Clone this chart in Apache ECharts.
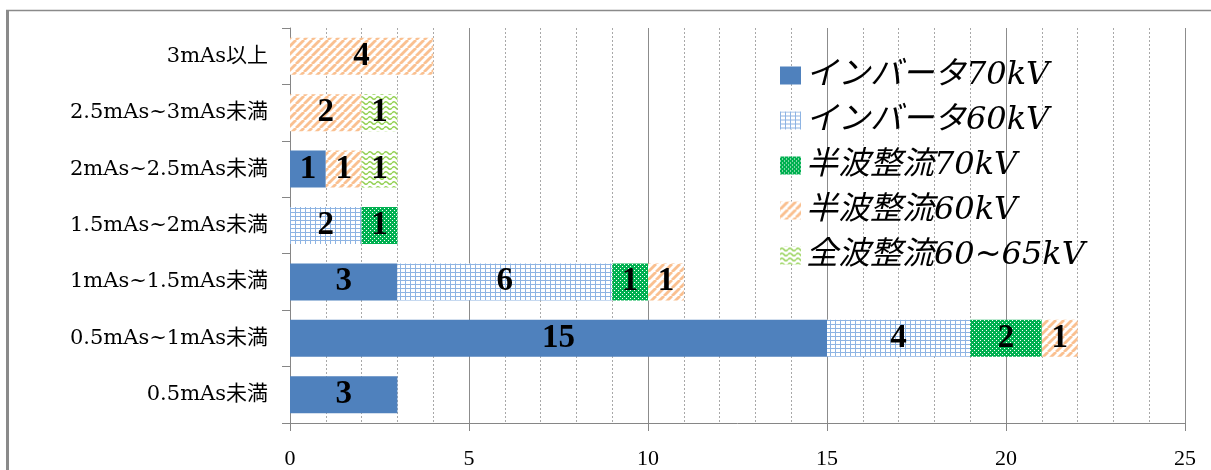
<!DOCTYPE html>
<html>
<head>
<meta charset="utf-8">
<script src="https://cdn.jsdelivr.net/npm/echarts@6/dist/echarts.min.js"></script>
<style>
  html, body { margin: 0; padding: 0; background: #fff; }
  #chart { width: 1211px; height: 470px; }
</style>
</head>
<body>
<div id="chart"></div>
<script>
// mAs ranges, listed bottom to top
const categories = ['0.5mAs未満', '0.5mAs~1mAs未満', '1mAs~1.5mAs未満', '1.5mAs~2mAs未満', '2mAs~2.5mAs未満', '2.5mAs~3mAs未満', '3mAs以上'];
const seriesNames = ['インバータ70kV', 'インバータ60kV', '半波整流70kV', '半波整流60kV', '全波整流60~65kV'];
const inverter70 = [3, 15, 3, 0, 1, 0, 0];
const inverter60 = [0, 4, 6, 2, 0, 0, 0];
const halfWave70 = [0, 2, 1, 1, 0, 0, 0];
const halfWave60 = [0, 1, 1, 0, 1, 2, 4];
const fullWave = [0, 0, 0, 0, 1, 1, 0];
const xMin = 0, xMax = 25, xStep = 5;

// small tiled fills for the hatched series
function makeTile(w, h, draw) {
  const c = document.createElement('canvas');
  c.width = w; c.height = h;
  const ctx = c.getContext('2d');
  draw(ctx, w, h);
  return { image: c, repeat: 'repeat' };
}
const gridFill = makeTile(5, 4, (ctx, w, h) => {
  ctx.fillStyle = '#ffffff'; ctx.fillRect(0, 0, w, h);
  ctx.fillStyle = '#8eb4e3';
  ctx.fillRect(0, 0, 1, h);
  ctx.fillRect(0, 0, w, 1);
});
const dotFill = makeTile(4, 4, (ctx, w, h) => {
  ctx.fillStyle = '#00b050'; ctx.fillRect(0, 0, w, h);
  ctx.fillStyle = '#ffffff';
  ctx.fillRect(0, 0, 1, 1);
  ctx.fillRect(2, 2, 1, 1);
});
const stripeFill = makeTile(8, 8, (ctx, w, h) => {
  ctx.fillStyle = '#ffffff'; ctx.fillRect(0, 0, w, h);
  ctx.strokeStyle = '#fac090';
  ctx.lineWidth = 2.8;
  for (const o of [-8, 0, 8]) {
    ctx.beginPath();
    ctx.moveTo(o, h);
    ctx.lineTo(o + w, 0);
    ctx.stroke();
  }
});
const waveFill = makeTile(8, 5, (ctx, w, h) => {
  ctx.fillStyle = '#ffffff'; ctx.fillRect(0, 0, w, h);
  ctx.strokeStyle = '#92d050';
  ctx.lineWidth = 1.4;
  ctx.beginPath();
  ctx.moveTo(0, 3);
  ctx.quadraticCurveTo(2, 0.5, 4, 3);
  ctx.quadraticCurveTo(6, 5.5, 8, 3);
  ctx.stroke();
});

const fills = ['#4f81bd', gridFill, dotFill, stripeFill, waveFill];
const values = [inverter70, inverter60, halfWave70, halfWave60, fullWave];

const chart = echarts.init(document.getElementById('chart'), null, { renderer: 'canvas' });

const series = seriesNames.map((name, i) => ({
  name,
  type: 'bar',
  stack: 'total',
  barWidth: 37,
  data: values[i],
  itemStyle: { color: fills[i] },
  label: {
    show: true,
    position: 'inside',
    color: '#000',
    fontFamily: 'Liberation Serif, serif',
    fontWeight: 'bold',
    fontSize: 33,
    formatter: p => (p.value ? String(p.value) : '')
  },
  emphasis: { disabled: true }
}));

chart.setOption({
  animation: false,
  backgroundColor: '#fff',
  graphic: [
    { type: 'line', shape: { x1: 7.5, y1: 10, x2: 7.5, y2: 470 }, style: { stroke: '#8a8a8a', lineWidth: 3 } },
    { type: 'line', shape: { x1: 6, y1: 10.5, x2: 1211, y2: 10.5 }, style: { stroke: '#8a8a8a', lineWidth: 1.5 } }
  ],
  grid: { left: 290, right: 26, top: 28, bottom: 45 },
  legend: {
    orient: 'vertical',
    left: 775,
    top: 54,
    icon: 'rect',
    itemWidth: 21,
    itemHeight: 18,
    itemGap: 12,
    textStyle: {
      fontFamily: 'DejaVu Serif, Noto Sans CJK JP, serif',
      fontStyle: 'italic',
      fontSize: 32,
      lineHeight: 33,
      color: '#000',
      padding: [0, 0, 0, 0]
    },
    data: seriesNames
  },
  xAxis: {
    type: 'value',
    min: xMin,
    max: xMax,
    interval: xStep,
    axisLine: { show: true, lineStyle: { color: '#868686', width: 1 } },
    axisTick: { show: true, length: 8, lineStyle: { color: '#868686' } },
    axisLabel: {
      margin: 25,
      color: '#000',
      fontFamily: 'Liberation Serif, serif',
      fontSize: 22
    },
    splitLine: { show: true, lineStyle: { color: '#8c8c8c', width: 1 } },
    minorTick: { show: false, splitNumber: 5 },
    minorSplitLine: { show: true, lineStyle: { color: '#a8a8a8', width: 1, type: [2, 2] } }
  },
  yAxis: {
    type: 'category',
    data: categories,
    axisLine: { show: true, lineStyle: { color: '#868686', width: 1 } },
    axisTick: { show: true, length: 8, lineStyle: { color: '#868686' } },
    axisLabel: {
      margin: 22,
      color: '#000',
      fontFamily: 'DejaVu Serif, Noto Sans CJK JP, serif',
      fontSize: 21
    },
    splitLine: { show: false }
  },
  series
});
</script>
</body>
</html>
